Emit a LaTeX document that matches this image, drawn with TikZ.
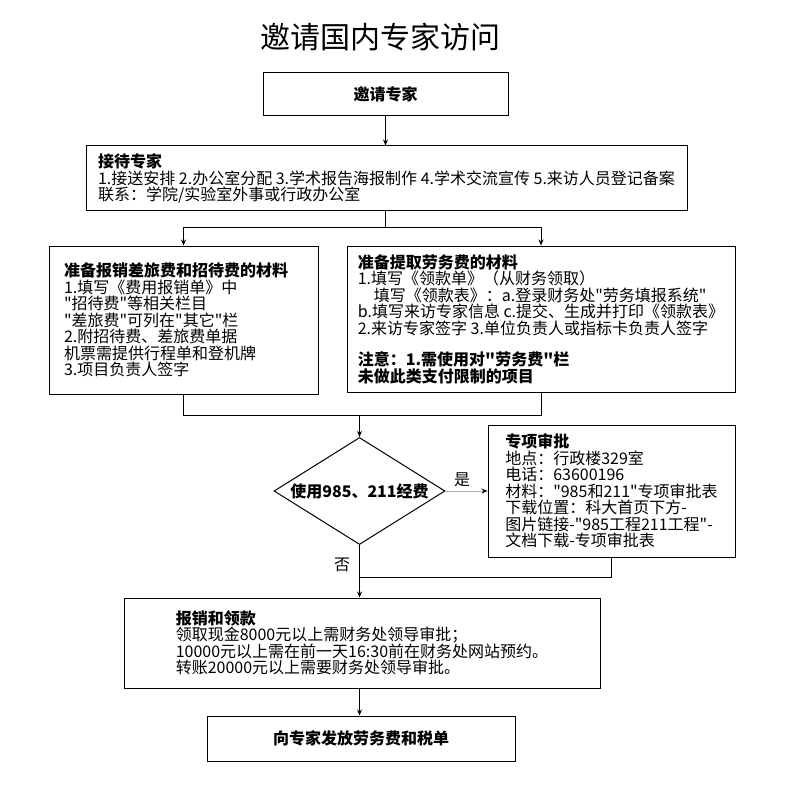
\documentclass[tikz,border=0pt]{standalone}
\usepackage{fontspec}
\setmainfont{Noto Sans CJK SC}[Ligatures=TeXOff]
\usetikzlibrary{arrows.meta,shapes.geometric}
\begin{document}
\begin{tikzpicture}[>={Stealth[length=6pt,width=5pt]}, x=1pt, y=-1pt, line width=1pt,
  box/.style={draw, align=left, inner sep=0pt, font=\fontsize{16}{16.5}\selectfont},
  lbl/.style={font=\fontsize{16}{16.5}\selectfont}]
\useasboundingbox (0,0) rectangle (794,794);
\node (title) at (380,37) {\fontsize{30}{30}\selectfont 邀请国内专家访问};

\node[box, minimum width=245, minimum height=43] (invite) at (385.5,94.5) {\textbf{邀请专家}};
\node[box, minimum width=601, minimum height=65] (host) at (386.5,178.5) {\textbf{接待专家}\\
1.接送安排 2.办公室分配 3.学术报告海报制作 4.学术交流宣传 5.来访人员登记备案\\
联系：学院/实验室外事或行政办公室};
\node[box, text width=239, minimum width=269, minimum height=148] (prep) at (183.5,320) {\textbf{准备报销差旅费和招待费的材料}\\
1.填写《费用报销单》中\\
"招待费"等相关栏目\\
"差旅费"可列在"其它"栏\\
2.附招待费、差旅费单据\\
机票需提供行程单和登机牌\\
3.项目负责人签字};
\node[box, minimum width=388, minimum height=146] (labor) at (541,319) {\textbf{准备提取劳务费的材料}\\
1.填写《领款单》（从财务领取）\\
\hspace*{1em}填写《领款表》：a.登录财务处"劳务填报系统"\\
b.填写来访专家信息 c.提交、生成并打印《领款表》\\
2.来访专家签字 3.单位负责人或指标卡负责人签字\\[15pt]
\textbf{注意：1.需使用对"劳务费"栏}\\
\textbf{未做此类支付限制的项目}};

\node[draw, diamond, aspect=1.6, inner sep=0pt, minimum width=171, minimum height=107, lbl] (check) at (359.5,491) {\textbf{使用985、211经费}};
\node[box, minimum width=247, minimum height=132] (approve) at (611.5,491) {\textbf{专项审批}\\
地点：行政楼329室\\
电话：63600196\\
材料："985和211"专项审批表\\
下载位置：科大首页下方-\\
图片链接-"985工程211工程"-\\
文档下载-专项审批表};
\node[box, minimum width=476, minimum height=90] (claim) at (362,643) {\textbf{报销和领款}\\
领取现金8000元以上需财务处领导审批；\\
10000元以上需在前一天16:30前在财务处网站预约。\\
转账20000元以上需要财务处领导审批。};
\node[box, minimum width=308, minimum height=45] (pay) at (361,738.5) {\textbf{向专家发放劳务费和税单}};

\draw[->] (invite.south) -- (invite.south |- host.north);
\draw[->] (invite.south |- host.south) -- ++(0,16) -| (prep.north);
\draw[->] (invite.south |- host.south) -- ++(0,16) -| (labor.north);
\draw (prep.south) -- ++(0,21) coordinate (join) -| (labor.south);
\draw[->] (join -| check.north) -- (check.north);
\draw[-{Stealth[length=6pt,width=5pt,color=black]}, draw=gray!65] (check.east) -- (approve.west);
\node[lbl] (yes) at (462,480) {是};
\draw[->] (check.south) -- (check.south |- claim.north);
\node[lbl] (no) at (342,565) {否};
\draw (approve.south) -- ++(0,20) coordinate (back) -- (back -| check.south);
\draw[->] (check.south |- claim.south) -- (check.south |- pay.north);
\end{tikzpicture}
\end{document}
